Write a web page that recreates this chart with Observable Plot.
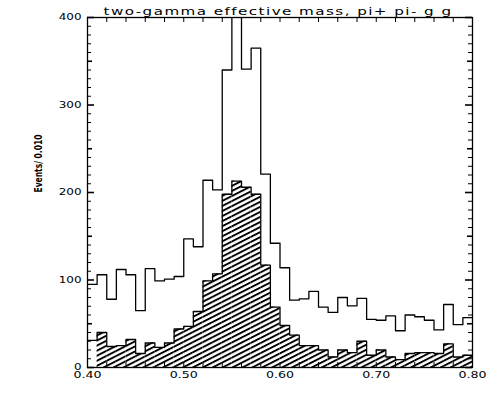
<!DOCTYPE html>
<html>
<head>
<meta charset="utf-8">
<script src="https://cdn.jsdelivr.net/npm/d3@7"></script>
<script src="https://cdn.jsdelivr.net/npm/@observablehq/plot@0.6"></script>
<style>
  html, body { margin: 0; padding: 0; background: #fff; }
</style>
</head>
<body>
<div id="chart"></div>
<script>
// ---- data ----
const binLow = 0.40;
const binWidth = 0.010;
const totalEvents = [95, 106, 78, 112, 106, 65, 113, 99, 101, 104,
                     147, 138, 214, 203, 340, 430, 341, 365, 221, 142,
                     114, 77, 78.5, 87, 69, 63, 80, 70.5, 79, 55,
                     54, 59, 42, 60, 58, 54, 43, 72, 49, 57];
const hatchedEvents = [31, 40, 24, 25, 32, 16, 28, 23, 28, 44,
                       47, 64, 99, 107, 198, 213, 206, 198, 117, 69,
                       48, 37, 25, 25, 20, 12, 20, 17, 30, 14,
                       20, 12, 9, 16, 17, 17, 16, 27, 12, 14];
const xTickLabels = [0.40, 0.50, 0.60, 0.70, 0.80];
const xMinorTicks = [0.40,0.42,0.44,0.46,0.48,0.50,0.52,0.54,0.56,0.58,0.60,0.62,0.64,0.66,0.68,0.70,0.72,0.74,0.76,0.78,0.80];
const yTickLabels = [0, 100, 200, 300, 400];
const yMinorTicks = d3.range(0, 401, 10);
const titleText = "two-gamma effective mass, pi+ pi- g g";
const yLabel = "Events/ 0.010";

// ---- derived tables ----
const bins = totalEvents.map((v, i) => ({
  x1: binLow + i * binWidth, x2: binLow + (i + 1) * binWidth, total: v, hatched: hatchedEvents[i]
}));
const stepPts = key => bins.map(b => ({x: b.x1, y: b[key]})).concat([{x: bins[bins.length - 1].x2, y: bins[bins.length - 1][key]}]);

// layout helpers (pixel -> data units)
const W = 500, H = 400, mL = 87, mR = 28, mT = 17, mB = 33;
const xDomain = [0.40, 0.80], yDomain = [0, 400];
const pxX = (W - mL - mR) / (xDomain[1] - xDomain[0]);
const pxY = (H - mT - mB) / (yDomain[1] - yDomain[0]);
const yTickLen = v => (v % 100 === 0 ? 7 : v % 50 === 0 ? 5 : 4);
const xTickLen = v => 5;

const plot = Plot.plot({
  width: W, height: H,
  marginLeft: mL, marginRight: mR, marginTop: mT, marginBottom: mB,
  x: {domain: xDomain, axis: null},
  y: {domain: yDomain, axis: null},
  style: {background: "white", color: "black"},
  marks: [
    // hatched histogram fill (first bin drawn as outline only)
    Plot.rectY(bins.slice(1), {x1: "x1", x2: "x2", y: "hatched", fill: "url(#hatch)"}),
    Plot.line(stepPts("hatched"), {x: "x", y: "y", curve: "step-after", stroke: "black", strokeWidth: 1.3}),
    Plot.line(stepPts("total"), {x: "x", y: "y", curve: "step-after", stroke: "black", strokeWidth: 1.3, clip: true}),
    // y ticks left & right (inward)
    Plot.ruleY(yMinorTicks, {y: d => d, x1: xDomain[0], x2: d => xDomain[0] + yTickLen(d) / pxX, stroke: "black", strokeWidth: d => (d % 50 === 0 ? 1.6 : 1)}),
    Plot.ruleY(yMinorTicks, {y: d => d, x1: xDomain[1], x2: d => xDomain[1] - yTickLen(d) / pxX, stroke: "black", strokeWidth: d => (d % 50 === 0 ? 1.6 : 1)}),
    // x ticks top & bottom (inward)
    Plot.ruleX(xMinorTicks, {x: d => d, y1: yDomain[1], y2: d => yDomain[1] - xTickLen(d) / pxY, stroke: "black"}),
    Plot.ruleX(xMinorTicks, {x: d => d, y1: yDomain[0], y2: d => yDomain[0] + xTickLen(d) / pxY, stroke: "black"}),
    Plot.frame({stroke: "black", strokeWidth: 1.3}),
    // tick labels
    Plot.text(yTickLabels, {x: xDomain[0], y: d => d, text: d => String(d), textAnchor: "end", dx: -6, fontSize: 8, fontFamily: "DejaVu Sans"}),
    Plot.text(xTickLabels, {x: d => d, y: yDomain[0], text: d => d.toFixed(2), textAnchor: "middle", dy: 7.5, fontSize: 8, fontFamily: "DejaVu Sans"}),
    // axis title and chart title
    Plot.text([yLabel], {frameAnchor: "left", text: d => d, rotate: -90, dx: -49, fontSize: 10, fontWeight: "bold", fontFamily: "DejaVu Sans Condensed, sans-serif"}),
    Plot.text([titleText], {frameAnchor: "top", text: d => d, lineAnchor: "bottom", dx: -2, dy: -2.5, fontSize: 10.5, fontFamily: "DejaVu Sans"})
  ]
});

const svg = d3.select(plot);
const defs = svg.insert("defs", ":first-child");
const pat = defs.append("pattern")
  .attr("id", "hatch")
  .attr("patternUnits", "userSpaceOnUse")
  .attr("width", 6).attr("height", 4.5)
  .attr("patternTransform", "rotate(-27)");
pat.append("rect").attr("width", 6).attr("height", 4.5).attr("fill", "white");
pat.append("rect").attr("y", 0).attr("width", 6).attr("height", 1.9).attr("fill", "black");

const yTickStrings = new Set(yTickLabels.map(String));
const xTickStrings = new Set(xTickLabels.map(d => d.toFixed(2)));
svg.selectAll("text").each(function () {
  const t = this.textContent;
  const el = d3.select(this);
  if (yTickStrings.has(t)) el.attr("textLength", t.length * 7.6).attr("lengthAdjust", "spacingAndGlyphs");
  else if (xTickStrings.has(t)) el.attr("textLength", 28).attr("lengthAdjust", "spacingAndGlyphs");
  else if (t === titleText) el.style("letter-spacing", "1px").attr("textLength", 349).attr("lengthAdjust", "spacingAndGlyphs");
  else if (t === yLabel) el.attr("textLength", 58).attr("lengthAdjust", "spacingAndGlyphs");
});

document.getElementById("chart").appendChild(plot);
</script>
</body>
</html>
